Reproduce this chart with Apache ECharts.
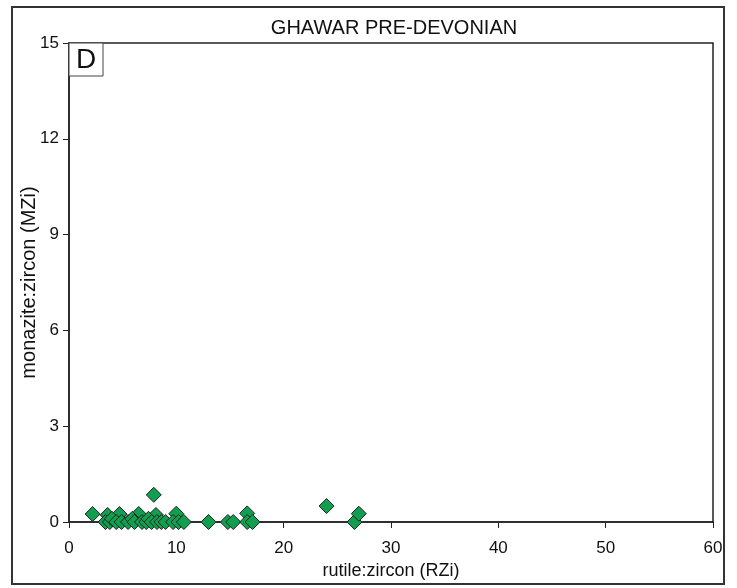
<!DOCTYPE html>
<html>
<head>
<meta charset="utf-8">
<script src="https://cdn.jsdelivr.net/npm/echarts@6/dist/echarts.min.js"></script>
<style>
html,body{margin:0;padding:0;background:#fff;}
#c{width:737px;height:588px;}
</style>
</head>
<body>
<div id="c"></div>
<script>
const chartTitle = "GHAWAR PRE-DEVONIAN";
const panelLabel = "D";
const xAxisName = "rutile:zircon (RZi)";
const yAxisName = "monazite:zircon (MZi)";
const rziValues = [2.2, 3.6, 4.7, 6.5, 8.1, 10.0, 7.9, 3.4, 3.8, 4.0, 4.4, 4.9, 5.5, 5.9, 6.1, 6.8, 7.2, 7.4, 7.7, 8.2, 8.6, 9.0, 9.7, 10.2, 10.7, 13.0, 14.8, 15.3, 16.6, 16.6, 17.1, 24.0, 26.6, 27.0];
const mziValues = [0.25, 0.22, 0.25, 0.25, 0.22, 0.26, 0.85, 0, 0, 0.1, 0, 0, 0, 0.1, 0, 0, 0, 0.1, 0, 0, 0, 0, 0, 0, 0, 0, 0, 0, 0.27, 0, 0, 0.5, 0, 0.26];
const xTicks = [0, 10, 20, 30, 40, 50, 60];
const yTicks = [0, 3, 6, 9, 12, 15];

const points = rziValues.map((x, i) => [x, mziValues[i]]);
const chart = echarts.init(document.getElementById('c'));
const font = 'Arial, "Liberation Sans", sans-serif';
chart.setOption({
  animation: false,
  backgroundColor: '#fff',
  title: {
    text: chartTitle, left: 389, top: 13, textAlign: 'center',
    textStyle: {fontFamily: font, fontSize: 20, fontWeight: 'normal', color: '#111'}
  },
  grid: {left: 69, right: 24, top: 43, bottom: 66, show: true, borderColor: '#222', borderWidth: 1.5, backgroundColor: 'transparent'},
  xAxis: {
    type: 'value', min: xTicks[0], max: xTicks[xTicks.length-1], interval: 10,
    name: xAxisName, nameLocation: 'middle', nameGap: 39,
    nameTextStyle: {fontFamily: font, fontSize: 18, color: '#111'},
    axisLine: {show: true, onZero: false, lineStyle: {color: '#222', width: 1.5}},
    axisTick: {show: true, inside: false, length: 6, lineStyle: {color: '#222'}},
    axisLabel: {fontFamily: font, fontSize: 17, color: '#111', margin: 18},
    splitLine: {show: false}
  },
  yAxis: {
    type: 'value', min: yTicks[0], max: yTicks[yTicks.length-1], interval: 3,
    name: yAxisName, nameLocation: 'middle', nameGap: 30, nameRotate: 90, nameMoveOverlap: false,
    nameTextStyle: {fontFamily: font, fontSize: 20, color: '#111'},
    axisLine: {show: true, onZero: false, lineStyle: {color: '#222', width: 1.5}},
    axisTick: {show: true, inside: false, length: 6, lineStyle: {color: '#222'}},
    axisLabel: {fontFamily: font, fontSize: 17, color: '#111', margin: 10},
    splitLine: {show: false}
  },
  graphic: [
    {type: 'rect', shape: {x: 12, y: 7, width: 712, height: 577}, style: {fill: 'none', stroke: '#333', lineWidth: 2}, z: -10},
    {type: 'rect', shape: {x: 69, y: 43, width: 34, height: 33}, style: {fill: '#fff', stroke: '#444', lineWidth: 1}, z: 10},
    {type: 'text', x: 86, y: 60, style: {text: panelLabel, fontFamily: font, fontSize: 28, fill: '#111', textAlign: 'center', textVerticalAlign: 'middle'}, z: 11}
  ],
  series: [{
    type: 'scatter', data: points, symbol: 'diamond', symbolSize: 15,
    itemStyle: {color: '#0f9f4f', borderColor: '#222', borderWidth: 1, opacity: 1}
  }]
});
</script>
</body>
</html>
